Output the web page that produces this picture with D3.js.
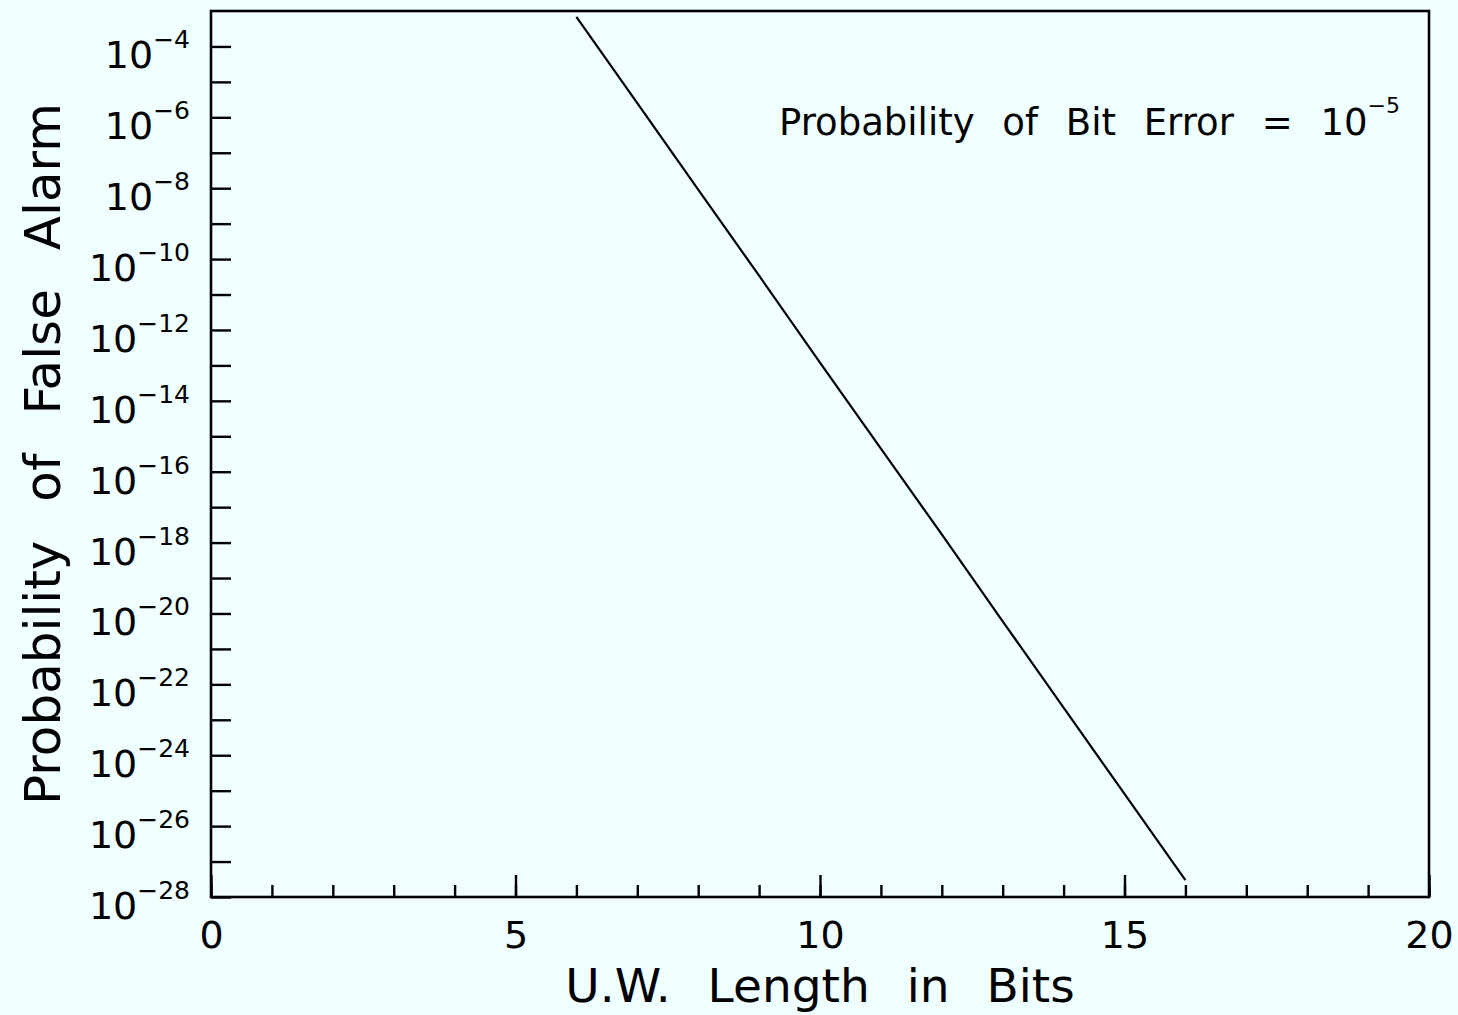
<!DOCTYPE html>
<html>
<head>
<meta charset="utf-8">
<script src="https://cdn.jsdelivr.net/npm/d3@7"></script>
<style>
  html, body { margin: 0; padding: 0; background: #f0ffff; }
  svg { display: block; }
  text { font-family: "DejaVu Sans", sans-serif; fill: #000; }
</style>
</head>
<body>
<svg id="chart" width="1458" height="1015"></svg>
<script>
// Unique-word length (bits) and resulting false-alarm probability
const uwLength = [6, 7, 8, 9, 10, 11, 12, 13, 14, 15, 16];
const pFalseAlarm = [6.8e-4, 2.5e-6, 9.1e-9, 3.4e-11, 1.2e-13, 4.5e-16,
                     1.7e-18, 6.0e-21, 2.2e-23, 8.1e-26, 3.0e-28];

// Axis ticks
const xMajorTicks = [0, 5, 10, 15, 20];
const xMinorTicks = d3.range(0, 21);
const yLabelExponents = [-4, -6, -8, -10, -12, -14, -16, -18, -20, -22, -24, -26, -28];
const yTickExponents = d3.range(-4, -29, -1);

const annotationText = ["Probability", "of", "Bit", "Error", "=", "10"];
const annotationExp = "\u22125";
const xTitle = "U.W. Length in Bits";
const yTitle = "Probability of False Alarm";

const svg = d3.select("#chart");
const frame = { left: 211, right: 1429, top: 11, bottom: 897 };

const x = d3.scaleLinear().domain([0, 20]).range([frame.left, frame.right]);
const y = d3.scaleLog().domain([1e-28, 1e-3]).range([frame.bottom, frame.top]);

svg.append("rect").attr("width", 1458).attr("height", 1015).attr("fill", "#f0ffff");

// Minor x ticks (every bit), pointing into the plot
svg.append("g")
  .attr("transform", `translate(0,${frame.bottom})`)
  .call(d3.axisBottom(x).tickValues(xMinorTicks).tickSize(-12).tickFormat(""))
  .call(g => g.select(".domain").remove())
  .call(g => g.selectAll("line").attr("stroke-width", 2.4));

// Major x ticks with labels
svg.append("g")
  .attr("transform", `translate(0,${frame.bottom})`)
  .call(d3.axisBottom(x).tickValues(xMajorTicks).tickSize(-22).tickFormat(d3.format("d")))
  .call(g => g.select(".domain").remove())
  .call(g => g.selectAll("line").attr("stroke-width", 2.4))
  .call(g => g.selectAll("text")
    .attr("y", 51).attr("dy", 0)
    .style("font-family", "DejaVu Sans")
    .style("font-size", "38px"));

// Y ticks at every decade, pointing into the plot
svg.append("g")
  .attr("transform", `translate(${frame.left},0)`)
  .call(d3.axisLeft(y).tickValues(yTickExponents.map(e => Math.pow(10, e))).tickSize(-20).tickFormat(""))
  .call(g => g.select(".domain").remove())
  .call(g => g.selectAll("line").attr("stroke-width", 2.4));

// Y labels as 10 with superscript exponent
const yLab = svg.append("g");
yLabelExponents.forEach(e => {
  const ty = y(Math.pow(10, e));
  const t = yLab.append("text")
    .attr("x", 190).attr("y", ty + 22)
    .attr("text-anchor", "end")
    .style("font-size", "38px");
  t.append("tspan").text("10");
  t.append("tspan").attr("dy", -20).style("font-size", "25px").text("\u2212" + (-e));
});

// Plot frame
svg.append("rect")
  .attr("x", frame.left).attr("y", frame.top)
  .attr("width", frame.right - frame.left).attr("height", frame.bottom - frame.top)
  .attr("fill", "none").attr("stroke", "#000").attr("stroke-width", 2.6);

// False-alarm curve
const line = d3.line().x((d, i) => x(uwLength[i])).y(d => y(d));
svg.append("path")
  .datum(pFalseAlarm)
  .attr("d", line)
  .attr("fill", "none").attr("stroke", "#000").attr("stroke-width", 2.2);

// Annotation
const ann = svg.append("text")
  .attr("x", 779).attr("y", 135)
  .style("font-size", "37px")
  .style("word-spacing", "16px");
ann.append("tspan").text(annotationText.join(" "));
ann.append("tspan").attr("dy", -22).style("font-size", "22px").text(annotationExp);

// Axis titles
svg.append("text")
  .attr("x", (frame.left + frame.right) / 2).attr("y", 1002)
  .attr("text-anchor", "middle")
  .style("font-size", "47px")
  .style("word-spacing", "22px")
  .text(xTitle);

svg.append("text")
  .attr("transform", `translate(60,${(frame.top + frame.bottom) / 2}) rotate(-90)`)
  .attr("text-anchor", "middle")
  .style("font-size", "50px")
  .style("word-spacing", "23px")
  .text(yTitle);
</script>
</body>
</html>
